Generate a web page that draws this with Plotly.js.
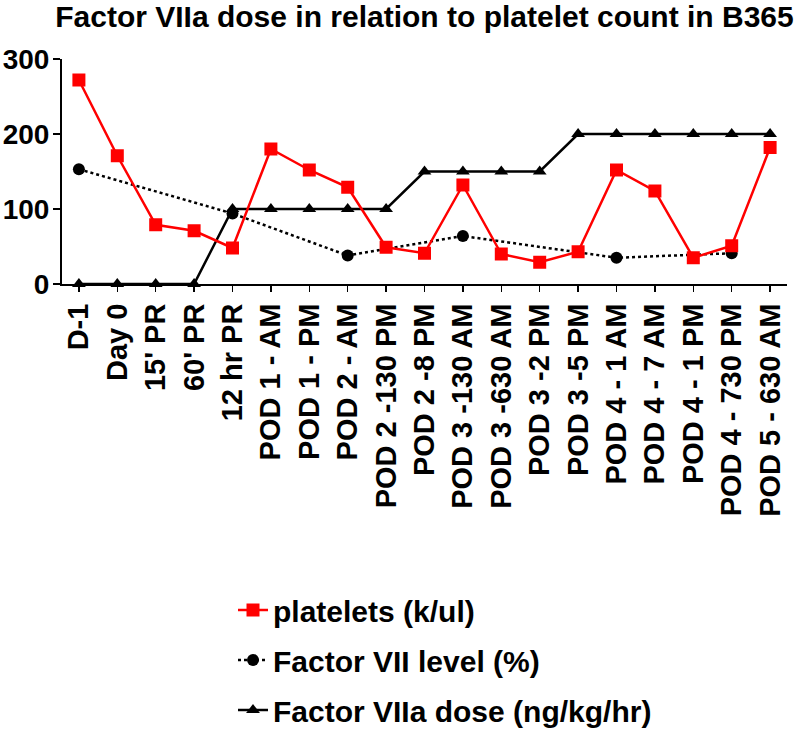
<!DOCTYPE html>
<html>
<head>
<meta charset="utf-8">
<script src="https://cdn.plot.ly/plotly-3.0.1.min.js"></script>
<style>html,body{margin:0;padding:0;background:#fff;}#chart{width:800px;height:730px;}</style>
</head>
<body>
<div id="chart"></div>
<script>
var categories = ['D-1','Day 0',"15' PR","60' PR",'12 hr PR','POD 1 - AM','POD 1 - PM','POD 2 - AM','POD 2 -130 PM','POD 2 -8 PM','POD 3 -130 AM','POD 3 -630 AM','POD 3 -2 PM','POD 3 -5 PM','POD 4 - 1 AM','POD 4 - 7 AM','POD 4 - 1 PM','POD 4 - 730 PM','POD 5 - 630 AM'];
var platelets = [272,171,79,71,48,180,152,129,49,41,132,40,29,43,152,124,35,51,182];
var factorVII = [153,null,null,null,94,null,null,38,null,null,64,null,null,null,35,null,null,41,null];
var factorVIIaDose = [0,0,0,0,100,100,100,100,100,150,150,150,150,200,200,200,200,200,200];
var yTicks = [0,100,200,300];

var FONT = 'Liberation Sans, Arial, Helvetica, sans-serif';

var traces = [
  {
    x: categories, y: factorVIIaDose, name: 'Factor VIIa dose (ng/kg/hr)',
    type: 'scatter', mode: 'lines+markers', legendrank: 3, legendgroup: 'c',
    line: {color: '#000000', width: 2.5},
    marker: {symbol: 'triangle-up', size: 12, color: '#000000'},
    cliponaxis: false
  },
  {
    x: categories, y: factorVII, name: 'Factor VII level (%)',
    type: 'scatter', mode: 'lines+markers', connectgaps: true, legendrank: 2, legendgroup: 'b',
    line: {color: '#000000', width: 2.5, dash: 'dot'},
    marker: {symbol: 'circle', size: 12, color: '#000000'},
    cliponaxis: false
  },
  {
    x: categories, y: platelets, name: 'platelets (k/ul)',
    type: 'scatter', mode: 'lines+markers', legendrank: 1, legendgroup: 'a',
    line: {color: '#ff0000', width: 2.5},
    marker: {symbol: 'square', size: 13, color: '#ff0000'},
    cliponaxis: false
  }
];

var layout = {
  width: 800, height: 730,
  paper_bgcolor: '#ffffff', plot_bgcolor: '#ffffff',
  margin: {l: 62, r: 13, t: 59, b: 446, autoexpand: false},
  font: {family: FONT, color: '#000000'},
  title: {
    text: 'Factor VIIa dose in relation to platelet count in B365',
    font: {family: FONT, size: 30, weight: 'bold', color: '#000000'},
    x: 0.5, xref: 'paper', y: 1 - 16/730, yref: 'container', yanchor: 'middle', xanchor: 'center'
  },
  xaxis: {
    type: 'category', range: [-0.44, 18.44],
    tickmode: 'linear', tick0: 0, dtick: 1, automargin: false,
    showgrid: false, zeroline: false,
    showline: true, linecolor: '#000000', linewidth: 2,
    ticks: 'outside', ticklen: 6, tickwidth: 1.5, tickcolor: '#000000',
    tickangle: -90,
    tickfont: {family: FONT, size: 29, weight: 'bold', color: '#000000'}
  },
  yaxis: {
    range: [0, 300], tickmode: 'array', tickvals: yTicks, automargin: false,
    showgrid: false, zeroline: false,
    showline: true, linecolor: '#000000', linewidth: 2,
    ticks: 'outside', ticklen: 7, tickwidth: 2, tickcolor: '#000000',
    ticklabelstandoff: -2,
    tickfont: {family: FONT, size: 28, weight: 'bold', color: '#000000'}
  },
  showlegend: true,
  legend: {
    xref: 'container', yref: 'container',
    x: 233/800, y: 1 - 584/730, xanchor: 'left', yanchor: 'top',
    traceorder: 'grouped', tracegroupgap: 8,
    font: {family: FONT, size: 30, weight: 'bold', color: '#000000'},
    bgcolor: 'rgba(0,0,0,0)', itemwidth: 30
  }
};

Plotly.newPlot('chart', traces, layout, {displayModeBar: false, staticPlot: true});
</script>
</body>
</html>
